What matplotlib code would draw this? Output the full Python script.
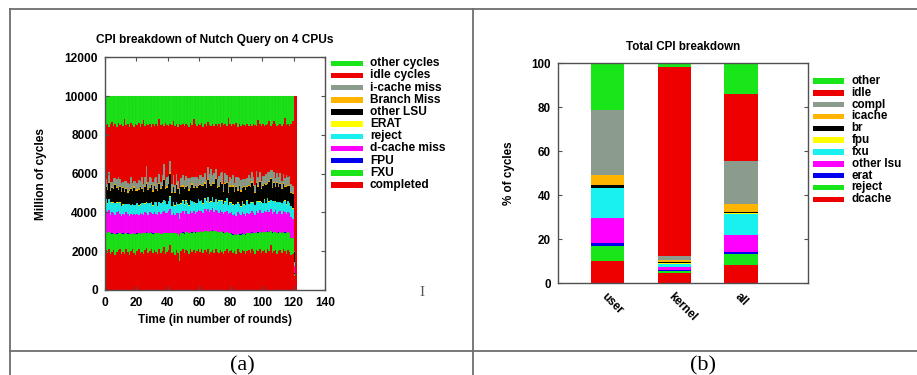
import numpy as np
import matplotlib
matplotlib.use("Agg")
import matplotlib.pyplot as plt
from matplotlib.patches import Rectangle
from matplotlib.lines import Line2D

W, H = 917, 375

# ---------------- Panel (a) data: million of cycles per round ----------------
rounds = list(range(0, 122))
total_cycles = 10000

completed = [
    2050, 1900, 2100, 1850, 1980, 2080, 1820, 1950, 2050, 2100,
    1880, 1980, 1850, 2100, 1960, 1820, 1990, 2090, 1900, 1800,
    1990, 2120, 1900, 1980, 1840, 2060, 2180, 1920, 1990, 2110,
    1900, 2060, 1960, 1840, 2100, 1900, 1990, 2200, 1840, 1970,
    2060, 2300, 1900, 1980, 1830, 2050, 1900, 1500, 1990, 2100,
    1900, 2080, 1990, 1850, 2120, 1960, 2060, 1900, 1990, 2120,
    1960, 2110, 1900, 2060, 1980, 2110, 1880, 1980, 2080, 1920,
    2110, 1980, 1900, 2080, 1960, 1840, 1990, 2120, 1900, 1990,
    2060, 1900, 1990, 1840, 2110, 1960, 1900, 2080, 1990, 1880,
    1990, 2080, 1900, 2120, 1990, 1850, 2080, 1990, 2120, 1900,
    1990, 2080, 1920, 2130, 1990, 2300, 1900, 1990, 2080, 1850,
    1990, 2080, 1900, 2120, 1990, 1880, 2080, 1960, 1800, 1850,
    700, 2200]
fxu = [
    950, 1050, 880, 1100, 930, 850, 1060, 960, 880, 820,
    1000, 930, 1050, 830, 950, 1080, 900, 850, 980, 1100,
    920, 830, 1000, 950, 1080, 880, 780, 1000, 940, 850,
    1010, 880, 980, 1100, 840, 1000, 930, 720, 1100, 950,
    880, 650, 1020, 950, 1100, 900, 1000, 1300, 940, 860,
    1010, 900, 980, 1100, 880, 1000, 940, 1060, 990, 880,
    1020, 920, 1100, 970, 1040, 940, 1120, 1040, 980, 1100,
    920, 1020, 1080, 940, 1020, 1120, 960, 850, 1020, 930,
    850, 960, 880, 1010, 780, 900, 960, 830, 900, 980,
    940, 860, 1000, 840, 950, 1080, 900, 970, 860, 1020,
    980, 920, 1060, 880, 1000, 720, 1060, 980, 920, 1100,
    970, 900, 1040, 860, 970, 1060, 900, 990, 880, 820,
    150, 0]
fpu = [
    10, 12, 8, 11, 9, 10, 13, 9, 10, 12,
    8, 10, 11, 9, 12, 10, 8, 11, 10, 9,
    12, 10, 9, 11, 10, 8, 12, 10, 9, 11,
    10, 12, 9, 10, 11, 8, 10, 12, 9, 10,
    11, 9, 10, 12, 8, 10, 11, 9, 10, 12,
    9, 10, 11, 8, 12, 10, 9, 11, 10, 12,
    8, 10, 11, 9, 10, 12, 10, 9, 11, 10,
    12, 9, 10, 11, 8, 10, 12, 9, 10, 11,
    10, 8, 12, 10, 9, 11, 10, 12, 9, 10,
    11, 10, 9, 12, 10, 8, 11, 10, 12, 9,
    10, 11, 9, 10, 12, 8, 10, 11, 9, 10,
    12, 10, 9, 11, 10, 12, 8, 10, 11, 9,
    5, 0]
dcache_miss = [
    1080, 1000, 1150, 920, 1100, 1040, 980, 1100, 1150, 1000,
    920, 1020, 950, 1060, 980, 900, 1000, 940, 1040, 960,
    980, 920, 1040, 990, 940, 1060, 1020, 960, 1080, 1000,
    980, 1060, 990, 930, 1080, 1010, 1100, 1150, 1000, 1050,
    1100, 1200, 960, 1040, 940, 1000, 1060, 850, 1010, 1080,
    1000, 1060, 960, 940, 1080, 1000, 1050, 960, 1040, 1120,
    1080, 1020, 980, 1120, 1060, 1100, 990, 1080, 1150, 1000,
    1100, 1040, 1000, 1100, 1050, 960, 1060, 1120, 980, 1020,
    1080, 980, 1040, 950, 1100, 1030, 980, 1080, 1020, 960,
    1040, 980, 1080, 1100, 1010, 950, 1060, 1000, 1120, 1020,
    1000, 1080, 1010, 1100, 1040, 1150, 960, 1050, 1100, 980,
    1040, 1080, 970, 1100, 1030, 980, 1060, 1010, 1080, 980,
    400, 0]
reject = [
    580, 480, 540, 650, 460, 520, 600, 480, 440, 560,
    500, 450, 560, 420, 520, 600, 470, 540, 440, 500,
    560, 460, 440, 540, 620, 450, 520, 580, 460, 540,
    450, 520, 600, 440, 500, 560, 470, 540, 620, 450,
    520, 650, 440, 540, 470, 560, 450, 750, 500, 540,
    470, 560, 500, 450, 540, 600, 470, 520, 440, 560,
    500, 580, 450, 540, 470, 620, 500, 440, 560, 500,
    540, 450, 600, 500, 560, 470, 520, 620, 450, 540,
    500, 560, 450, 620, 500, 520, 440, 560, 470, 540,
    620, 500, 540, 440, 560, 470, 520, 580, 450, 540,
    500, 560, 470, 620, 520, 450, 650, 540, 440, 580,
    520, 450, 560, 500, 600, 470, 540, 500, 560, 520,
    200, 0]
erat = [
    25, 30, 20, 28, 35, 22, 27, 30, 24, 26,
    30, 22, 28, 25, 33, 20, 26, 29, 24, 31,
    27, 23, 30, 26, 21, 34, 28, 25, 30, 22,
    26, 31, 24, 28, 22, 30, 27, 35, 24, 29,
    22, 30, 26, 24, 31, 27, 20, 28, 25, 30,
    24, 28, 32, 22, 27, 30, 25, 21, 29, 26,
    31, 24, 27, 30, 22, 28, 26, 33, 24, 27,
    29, 22, 30, 26, 24, 31, 27, 22, 28, 25,
    30, 24, 27, 22, 31, 26, 29, 24, 28, 30,
    22, 27, 30, 25, 28, 23, 31, 26, 24, 29,
    27, 30, 22, 28, 25, 33, 24, 29, 26, 22,
    30, 25, 28, 24, 31, 27, 22, 29, 26, 24,
    10, 0]
other_lsu = [
    600, 700, 820, 550, 750, 680, 900, 720, 600, 800,
    700, 850, 620, 760, 560, 700, 820, 650, 880, 700,
    640, 780, 880, 700, 560, 800, 950, 650, 760, 880,
    700, 820, 620, 760, 900, 680, 820, 1000, 640, 820,
    880, 1150, 650, 780, 620, 880, 760, 500, 820, 700,
    800, 680, 900, 760, 620, 840, 700, 900, 760, 640,
    820, 700, 900, 760, 680, 840, 950, 760, 680, 900,
    1000, 760, 680, 900, 820, 640, 900, 760, 600, 820,
    760, 900, 640, 840, 600, 900, 760, 680, 900, 760,
    680, 900, 760, 1000, 820, 640, 900, 760, 960, 680,
    840, 760, 900, 680, 960, 1050, 660, 900, 760, 960,
    760, 900, 680, 840, 660, 900, 760, 840, 640, 760,
    500, 0]
branch_miss = [
    60, 55, 70, 50, 65, 58, 72, 60, 52, 66,
    58, 70, 54, 62, 68, 50, 64, 58, 72, 60,
    55, 66, 60, 70, 52, 64, 75, 58, 62, 68,
    56, 64, 70, 54, 62, 66, 58, 80, 60, 64,
    68, 85, 56, 62, 58, 66, 60, 50, 64, 70,
    58, 64, 60, 68, 54, 62, 70, 58, 64, 60,
    66, 58, 70, 62, 56, 68, 74, 60, 64, 70,
    72, 60, 56, 66, 62, 58, 68, 64, 54, 62,
    60, 68, 56, 64, 58, 70, 62, 56, 66, 60,
    58, 66, 62, 74, 60, 56, 68, 62, 70, 58,
    64, 60, 68, 58, 70, 76, 60, 66, 62, 70,
    60, 66, 58, 64, 60, 68, 62, 64, 58, 60,
    20, 0]
icache_miss = [
    350, 250, 480, 400, 260, 520, 300, 420, 620, 320,
    420, 260, 520, 340, 450, 300, 560, 360, 260, 480,
    340, 450, 260, 560, 360, 480, 850, 380, 520, 300,
    450, 340, 560, 380, 480, 340, 520, 750, 380, 480,
    330, 600, 420, 520, 380, 480, 340, 280, 440, 520,
    380, 480, 330, 560, 420, 340, 520, 380, 480, 330,
    420, 520, 380, 480, 340, 600, 420, 850, 380, 520,
    480, 380, 520, 420, 560, 340, 480, 380, 520, 420,
    380, 520, 420, 480, 620, 380, 520, 420, 340, 480,
    420, 520, 380, 480, 420, 360, 560, 420, 480, 380,
    480, 380, 520, 560, 480, 420, 850, 520, 380, 480,
    420, 520, 380, 480, 420, 520, 380, 480, 420, 360,
    50, 0]
other_cycles = [
    1500, 1420, 1580, 1460, 1350, 1540, 1440, 1580, 1400, 1500,
    1460, 1550, 1200, 1500, 1440, 1570, 1380, 1500, 1580, 1430,
    1500, 1400, 1570, 1460, 1250, 1540, 1440, 1500, 1420, 1570,
    1460, 1540, 1430, 1560, 1200, 1500, 1450, 1550, 1400, 1500,
    1560, 1440, 1500, 1300, 1540, 1460, 1570, 1420, 1500, 1450,
    1550, 1430, 1500, 1580, 1400, 1500, 1200, 1460, 1560, 1440,
    1500, 1400, 1570, 1450, 1540, 1350, 1500, 1560, 1440, 1530,
    1430, 1550, 1460, 1570, 1400, 1500, 1440, 1550, 1150, 1460,
    1560, 1440, 1500, 1400, 1570, 1460, 1540, 1430, 1500, 1550,
    1440, 1530, 1460, 1560, 1420, 1500, 1550, 1250, 1460, 1540,
    1450, 1560, 1500, 1430, 1280, 1540, 1460, 1300, 1440, 1560,
    1500, 1430, 1550, 1460, 1150, 1500, 1440, 1560, 1460, 1300,
    0, 0]

busy = (np.array(completed) + np.array(fxu) + np.array(fpu) + np.array(dcache_miss)
        + np.array(reject) + np.array(erat) + np.array(other_lsu)
        + np.array(branch_miss) + np.array(icache_miss) + np.array(other_cycles))
idle_cycles = list(total_cycles - busy)

series_a = [
    ("completed", completed, "#ee0000"),
    ("FXU", fxu, "#19e619"),
    ("FPU", fpu, "#0000ee"),
    ("d-cache miss", dcache_miss, "#ff00ff"),
    ("reject", reject, "#19f0f0"),
    ("ERAT", erat, "#ffff00"),
    ("other LSU", other_lsu, "#000000"),
    ("Branch Miss", branch_miss, "#ffb400"),
    ("i-cache miss", icache_miss, "#8c9c8c"),
    ("idle cycles", idle_cycles, "#ee0000"),
    ("other cycles", other_cycles, "#19e619"),
]

# ---------------- Panel (b) data: % of cycles ----------------
modes = ["user", "kernel", "all"]
dcache_pct = [10.3, 4.5, 8.3]
reject_pct = [6.8, 1.0, 5.0]
erat_pct = [1.0, 0.7, 0.8]
other_lsu_pct = [11.6, 1.1, 7.9]
fxu_pct = [13.4, 1.5, 9.4]
fpu_pct = [0.4, 0.5, 0.4]
br_pct = [1.4, 0.3, 0.8]
icache_pct = [4.5, 0.9, 3.3]
compl_pct = [29.6, 1.8, 19.8]
idle_pct = [0.0, 85.9, 30.3]
other_pct = [21.0, 1.8, 14.0]

series_b = [
    ("dcache", dcache_pct, "#ee0000"),
    ("reject", reject_pct, "#19e619"),
    ("erat", erat_pct, "#0000ee"),
    ("other lsu", other_lsu_pct, "#ff00ff"),
    ("fxu", fxu_pct, "#19f0f0"),
    ("fpu", fpu_pct, "#ffff00"),
    ("br", br_pct, "#000000"),
    ("icache", icache_pct, "#ffb400"),
    ("compl", compl_pct, "#8c9c8c"),
    ("idle", idle_pct, "#ee0000"),
    ("other", other_pct, "#19e619"),
]

# ---------------- figure ----------------
plt.rcParams["font.family"] = ["Liberation Sans", "DejaVu Sans"]
plt.rcParams["font.weight"] = "bold"
FS = 8.6

fig = plt.figure(figsize=(W / 100, H / 100), dpi=100)
fig.patch.set_facecolor("white")


def fx(px):
    return px / W


def fy(py):
    return 1 - py / H


def axes_rect(l, t, r, b):
    return [fx(l), fy(b), fx(r) - fx(l), fy(t) - fy(b)]


spine_col = "#505050"

# ----- panel (a) -----
axa = fig.add_axes(axes_rect(105, 57.3, 325, 290))
bottom = np.zeros(len(rounds))
for name, vals, col in series_a:
    v = np.array(vals, dtype=float)
    axa.bar(rounds, v, bottom=bottom, width=1.0, align="edge", color=col,
            edgecolor=(0.3, 0.25, 0.0, 0.12), linewidth=0.3)
    bottom = bottom + v
axa.set_xlim(0, 140)
axa.set_ylim(0, 12000)
axa.set_xticks(range(0, 141, 20))
axa.set_yticks(range(0, 12001, 2000))
axa.tick_params(direction="in", top=True, right=True, length=3,
                width=0.8, color=spine_col, labelsize=FS)
axa.tick_params(axis="y", pad=5)
axa.tick_params(axis="x", pad=5)
for s in axa.spines.values():
    s.set_color(spine_col)
    s.set_linewidth(1.0)
axa.set_title("CPI breakdown of Nutch Query on 4 CPUs", fontsize=FS,
              fontweight="bold", pad=10)
axa.set_xlabel("Time (in number of rounds)", fontsize=FS, fontweight="bold")
axa.xaxis.set_label_coords(0.5, -0.105)
axa.set_ylabel("Million of cycles", fontsize=FS, fontweight="bold")
axa.yaxis.set_label_coords((47 - 105) / 220, 0.5)

# legend (a), top entry first
leg_a = list(reversed(series_a))
for i, (name, vals, col) in enumerate(leg_a):
    yc = 63.3 + i * 12.17
    fig.add_artist(Rectangle((fx(331), fy(yc + 2.8)), fx(363) - fx(331),
                             fy(yc - 2.8) - fy(yc + 2.8), transform=fig.transFigure,
                             facecolor=col, edgecolor="none"))
    fig.text(fx(370), fy(yc), name, fontsize=FS, fontweight="bold",
             ha="left", va="center")

# ----- panel (b) -----
axb = fig.add_axes(axes_rect(557.7, 63.3, 807.7, 283.3))
xpos = np.arange(1, len(modes) + 1)
bottom = np.zeros(len(modes))
for name, vals, col in series_b:
    v = np.array(vals, dtype=float)
    axb.bar(xpos, v, bottom=bottom, width=0.5, color=col, edgecolor="none")
    bottom = bottom + v
axb.set_xlim(0.25, 4.0)
axb.set_ylim(0, 100)
axb.set_yticks(range(0, 101, 20))
axb.set_xticks(xpos)
axb.set_xticklabels(modes, rotation=-45, ha="left", va="top",
                    rotation_mode="anchor", fontsize=FS - 0.2, fontweight="bold")
axb.tick_params(direction="in", top=False, right=True, length=3, width=0.8,
                color=spine_col, labelsize=FS - 0.2)
axb.tick_params(axis="x", length=0, pad=5)
axb.tick_params(axis="y", pad=5)
for s in axb.spines.values():
    s.set_color(spine_col)
    s.set_linewidth(1.0)
axb.set_title("Total CPI breakdown", fontsize=FS - 0.2, fontweight="bold", pad=9.6)
axb.set_ylabel("% of cycles", fontsize=FS - 0.2, fontweight="bold")
axb.yaxis.set_label_coords((515 - 557.7) / 250, 0.5)

leg_b = list(reversed(series_b))
for i, (name, vals, col) in enumerate(leg_b):
    yc = 81 + i * 11.83
    fig.add_artist(Rectangle((fx(813), fy(yc + 2.8)), fx(844) - fx(813),
                             fy(yc - 2.8) - fy(yc + 2.8), transform=fig.transFigure,
                             facecolor=col, edgecolor="none"))
    fig.text(fx(851.7), fy(yc), name, fontsize=FS - 0.2, fontweight="bold",
             ha="left", va="center")

# ----- table frame and captions -----
line_col = "#6e6e6e"
for (x0, y0, x1, y1) in [(10, 9, 917, 9), (10, 351, 917, 351),
                         (10, 9, 10, 375), (473, 9, 473, 375)]:
    fig.add_artist(Line2D([fx(x0), fx(x1)], [fy(y0), fy(y1)],
                          transform=fig.transFigure, color=line_col, linewidth=1.3))

fig.text(fx(242.5), fy(370), "(a)", fontsize=16, fontweight="normal",
         family=["Liberation Serif", "DejaVu Serif"], ha="center", va="baseline")
fig.text(fx(703), fy(370), "(b)", fontsize=16, fontweight="normal",
         family=["Liberation Serif", "DejaVu Serif"], ha="center", va="baseline")
fig.text(fx(421.5), fy(293), "I", fontsize=11, fontweight="normal",
         family=["Liberation Serif", "DejaVu Serif"], color="#555555",
         ha="center", va="center")

fig.savefig("out.png", dpi=100, facecolor="white")
